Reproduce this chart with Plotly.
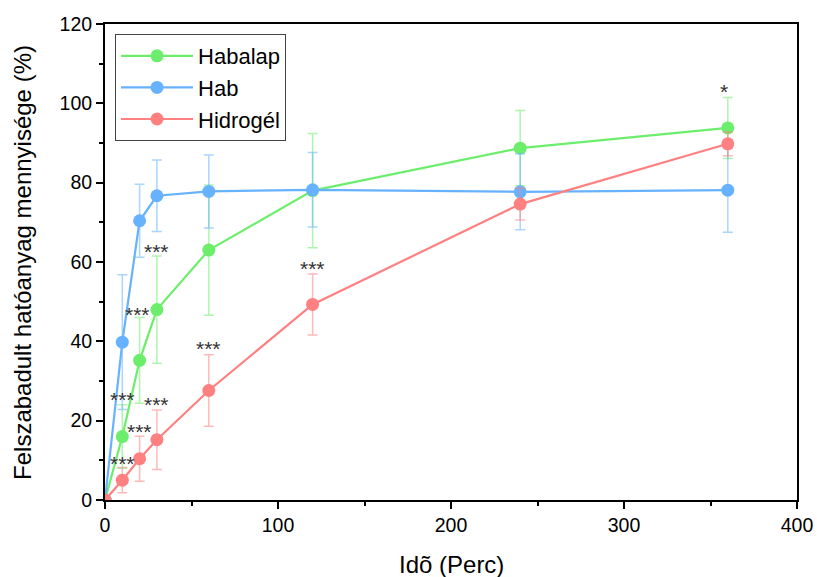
import plotly.graph_objects as go

time_min = [0, 10, 20, 30, 60, 120, 240, 360]

habalap = [0, 16.0, 35.2, 48.0, 63.0, 78.0, 88.7, 93.8]
habalap_err = [0, 8.0, 10.8, 13.5, 16.4, 14.4, 9.5, 7.7]

hab = [0, 39.8, 70.4, 76.7, 77.8, 78.2, 77.7, 78.1]
hab_err = [0, 17.0, 9.2, 9.0, 9.2, 9.4, 9.6, 10.6]

hidrogel = [0, 5.0, 10.4, 15.2, 27.6, 49.3, 74.6, 89.8]
hidrogel_err = [0, 3.2, 5.7, 7.5, 9.0, 7.7, 4.0, 3.0]

series_names = ["Habalap", "Hab", "Hidrogél"]

sig_x = [10, 10, 20, 30, 19, 30, 60, 120, 358]
sig_y = [26, 10, 18, 24.8, 47.6, 63.4, 38.9, 59, 103.8]
sig_text = ["***", "***", "***", "***", "***", "***", "***", "***", "*"]

x_ticks = [0, 100, 200, 300, 400]
y_ticks = [0, 20, 40, 60, 80, 100, 120]

colors = ["#6CEE6C", "#66B2FF", "#FF8080"]
err_colors = ["rgba(108,238,108,0.55)", "rgba(102,178,255,0.55)", "rgba(255,128,128,0.55)"]

FONT = "Arial, Liberation Sans, sans-serif"

fig = go.Figure()
for name, ys, errs, c, ec in zip(series_names, [habalap, hab, hidrogel],
                                 [habalap_err, hab_err, hidrogel_err], colors, err_colors):
    fig.add_trace(go.Scatter(
        x=time_min, y=ys, name=name, mode="lines+markers",
        line=dict(color=c, width=2.2),
        marker=dict(color=c, size=13),
        error_y=dict(type="data", array=errs, visible=True, color=ec,
                     thickness=1.5, width=5),
    ))

for sx, sy, st in zip(sig_x, sig_y, sig_text):
    fig.add_annotation(x=sx, y=sy, text=st,
                       showarrow=False, font=dict(family=FONT, size=21, color="#333333"),
                       yanchor="middle", xanchor="center", yshift=-3)

axis_common = dict(
    showline=True, linecolor="black", linewidth=2, mirror=True,
    ticks="outside", ticklen=7, tickwidth=1.5, tickcolor="black",
    showgrid=False, zeroline=False, automargin=False,
    tickfont=dict(family=FONT, size=19.5, color="black"),
)

fig.update_xaxes(range=[0, 400], tickvals=x_ticks,
                 minor=dict(ticks="outside", ticklen=4, tickwidth=1.5, dtick=50, tickcolor="black"),
                 **axis_common)
fig.update_yaxes(range=[0, 120], tickvals=y_ticks,
                 minor=dict(ticks="outside", ticklen=4, tickwidth=1.5, dtick=10, tickcolor="black"),
                 **axis_common)

fig.add_annotation(xref="paper", yref="paper", x=0.5, y=-0.135, yanchor="middle",
                   text="Idõ (Perc)", showarrow=False,
                   font=dict(family=FONT, size=24, color="black"))
fig.add_annotation(xref="paper", yref="paper", x=-0.12, y=0.5, xanchor="center",
                   text="Felszabadult hatóanyag mennyisége (%)", showarrow=False, textangle=-90,
                   font=dict(family=FONT, size=24, color="black"))

fig.update_layout(
    width=817, height=577,
    margin=dict(l=105, r=20, t=24, b=77),
    paper_bgcolor="white", plot_bgcolor="white",
    legend=dict(x=0.0145, y=0.979, xanchor="left", yanchor="top",
                bordercolor="#444444", borderwidth=1, bgcolor="white",
                font=dict(family=FONT, size=22, color="black"),
                itemwidth=72, tracegroupgap=0),
    showlegend=True,
)

fig.write_html("out.html", config={"displayModeBar": False},
               post_script="document.body.style.margin='0';document.body.style.overflow='hidden';")
